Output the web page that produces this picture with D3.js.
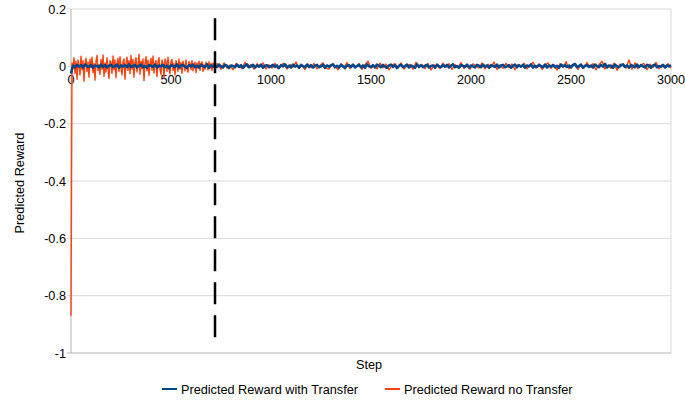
<!DOCTYPE html>
<html>
<head>
<meta charset="utf-8">
<script src="https://cdn.jsdelivr.net/npm/d3@7"></script>
<style>
  body { margin: 0; background: #fff; }
  svg { display: block; font-family: "Liberation Sans", Arial, sans-serif; }
</style>
</head>
<body>
<svg width="685" height="401"></svg>
<script>
// values are in thousandths of reward units
var transferSteps = d3.range(0, 3001, 10);
var transferMilli = [-25,
  2, -3, 5, -1, 4, -4, 6, 0, -2, 5, -5, 3, 1, -3, 6, -2, 4, -4, 2, 5,
  -3, 1, 6, -5, 3, -1, 4, -3, 7, -2, 0, 5, -4, 2, 6, -3, 1, -5, 4, 2,
  -2, 6, -4, 3, 0, 5, -3, 2, -6, 4, 1, -2, 7, -4, 3, 5, -1, -5, 4, 0,
  6, -3, 2, -4, 5, 1, -2, 7, -5, 3, -1, 4, -3, 6, 0, -4, 5, 2, -6, 3,
  1, -3, 6, -2, 4, -5, 2, 7, -3, 0, 5, -4, 3, -1, 6, -5, 2, 4, -3, 1,
  5, -2, 3, -6, 4, 0, 7, -3, 2, -4, 6, -1, 3, -5, 5, 1, -3, 6, -2, 4,
  -4, 2, 5, -3, 0, 6, -5, 3, -1, 4, 7, -3, 2, -4, 5, 0, -6, 3, 4, -2,
  6, -4, 1, 5, -3, 3, -5, 7, 0, -2, 4, -4, 6, 2, -3, 5, -1, -5, 3, 6,
  -2, 4, -6, 2, 5, -3, 1, 6, -4, 3, 0, -5, 7, -2, 4, -3, 2, 5, -4, 1,
  3, -5, 6, 0, -3, 4, -1, 5, -4, 2, 7, -3, 1, -5, 4, 2, -2, 6, -4, 3,
  0, -4, 5, 2, -3, 6, -1, 3, -5, 4, 1, -2, 6, -4, 3, 5, -3, 0, 4, -5,
  2, 6, -3, 4, -1, 5, -5, 3, 0, 7, -4, 2, -2, 5, 1, -3, 6, -4, 3, -1,
  5, -3, 2, -5, 6, 0, 4, -2, 3, -4, 5, 8, -3, 1, 6, -5, 2, 4, -2, 3,
  -4, 6, 1, -3, 5, -1, 9, -4, 3, 2, -5, 6, 0, -3, 4, 7, -2, 3, -5, 5,
  1, -3, 6, -2, 4, 0, -4, 5, 2, -5, 3, 6, -3, 1, -2, 5, -4, 3, 0, 4];

var noTransferSteps = d3.range(0, 721, 5).concat(d3.range(735, 3001, 15));
var noTransferMilli = [-870,
  12, -8, 30, -25, 18, -45, 22, 5, -30, 35, -12, 20, -52, 8, 28, -18, 15, -38, 25, -5,
  32, -22, 10, -48, 18, 38, -15, 6, -28, 24, -10, 40, -35, 12, -20, 30, -8, -42, 20, 14,
  -25, 36, -12, 22, -40, 8, 28, -18, 34, -6, -30, 16, 26, -45, 10, 32, -14, 20, -26, 38,
  -10, 24, -38, 14, 30, -20, 6, 42, -28, 18, -8, 26, -50, 12, 34, -16, 22, -32, 8, 28,
  -14, 36, -24, 10, 20, -36, 16, 30, -12, -28, 22, 8, -40, 26, 14, -18, 32, -8, -26, 18,
  24, -14, 10, -30, 20, 6, -18, 26, -10, 14, -24, 18, 4, -16, 22, -8, -20, 16, 10, -12,
  20, -16, 8, 14, -22, 12, -6, 18, -14, 10, 16, -18, 6, -10, 14, 8, -12, 16, -6, 10, -14, 12, -4, 8,
  8, -10, 12, -6, 4, -12, 10, 2, -8, 14, -4, 6, -10, 9, -2, 12, -9, 5, -6, 10,
  -8, 4, 11, -10, 6, -3, 15, -7, 2, -11, 8, -5, 10, -9, 3, 12, -6, -10, 7, 1,
  -12, 9, -4, 13, -8, 5, -2, 10, -11, 6, 18, -7, 3, -9, 11, -5, 8, -12, 4, 9,
  -6, 12, -9, 2, 7, -10, 14, -4, 6, -8, 10, -13, 5, 1, -7, 11, -3, 9, -11, 6,
  -5, 13, -8, 4, -10, 9, 2, -6, 12, -9, 7, -3, 15, -11, 5, -7, 10, -4, 8, -12,
  6, -2, 11, -9, 4, 14, -6, 8, -10, 3, 12, -7, 5, -13, 9, -4, 16, -8, 2, 10,
  -11, 7, -5, 13, -3, 9, -12, 6, 18, -9, 4, -7, 11, -14, 8, 2, -6, 22, -10, 12,
  -8, 5, 10, -12, 7, -4, 14, -9, 6, -2, 9, -6];

var seriesNames = ["Predicted Reward with Transfer", "Predicted Reward no Transfer"];
var seriesColors = ["#004586", "#ff420e"];
var xTicks = [0, 500, 1000, 1500, 2000, 2500, 3000];
var yTicks = [0.2, 0, -0.2, -0.4, -0.6, -0.8, -1];
var yTickLabels = ["0.2", "0", "-0.2", "-0.4", "-0.6", "-0.8", "-1"];
var markerStep = 720;
var markerRange = [0.168, -0.955];

var transfer = transferSteps.map(function (s, i) { return { step: s, value: transferMilli[i] / 1000 }; });
var noTransfer = noTransferSteps.map(function (s, i) { return { step: s, value: noTransferMilli[i] / 1000 }; });

var svg = d3.select("svg");
var plotLeft = 71, plotRight = 671, plotTop = 9, plotBottom = 353;
var fontSize = 12.7;

var x = d3.scaleLinear().domain([0, 3000]).range([plotLeft, plotRight]);
var y = d3.scaleLinear().domain([-1, 0.2]).range([plotBottom, plotTop]);

// grid lines with small outward ticks
svg.append("g")
    .selectAll("line")
    .data(yTicks)
    .enter()
    .append("line")
    .attr("x1", plotLeft - 4)
    .attr("x2", plotRight)
    .attr("y1", function (d) { return y(d); })
    .attr("y2", function (d) { return y(d); })
    .attr("stroke", function (d) { return d === -1 ? "#b3b3b3" : "#d9d9d9"; })
    .attr("stroke-width", 1);

// frame
svg.append("line").attr("x1", plotRight).attr("x2", plotRight).attr("y1", plotTop).attr("y2", plotBottom)
    .attr("stroke", "#d9d9d9");
svg.append("line").attr("x1", plotLeft).attr("x2", plotLeft).attr("y1", plotTop).attr("y2", plotBottom)
    .attr("stroke", "#b3b3b3");

// y tick labels
svg.append("g")
    .selectAll("text")
    .data(yTicks)
    .enter()
    .append("text")
    .attr("x", plotLeft - 5)
    .attr("y", function (d) { return y(d) + 4.5; })
    .attr("text-anchor", "end")
    .attr("font-size", fontSize)
    .attr("fill", "#000")
    .text(function (d, i) { return yTickLabels[i]; });

// x tick labels sit under the zero line
svg.append("g")
    .selectAll("text")
    .data(xTicks)
    .enter()
    .append("text")
    .attr("x", function (d) { return x(d); })
    .attr("y", y(0) + 17.5)
    .attr("text-anchor", "middle")
    .attr("font-size", fontSize)
    .attr("fill", "#000")
    .text(function (d) { return d; });

var line = d3.line()
    .x(function (d) { return x(d.step); })
    .y(function (d) { return y(d.value); });

svg.append("path")
    .datum(noTransfer)
    .attr("d", line)
    .attr("fill", "none")
    .attr("stroke", seriesColors[1])
    .attr("stroke-width", 1.4)
    .attr("stroke-linejoin", "round");

svg.append("path")
    .datum(transfer)
    .attr("d", line)
    .attr("fill", "none")
    .attr("stroke", seriesColors[0])
    .attr("stroke-width", 2.6)
    .attr("stroke-linejoin", "round");

// dashed marker line
svg.append("line")
    .attr("x1", x(markerStep))
    .attr("x2", x(markerStep))
    .attr("y1", y(markerRange[0]))
    .attr("y2", y(markerRange[1]))
    .attr("stroke", "#000")
    .attr("stroke-width", 2.5)
    .attr("stroke-dasharray", "22,11");

// axis titles
svg.append("text")
    .attr("x", 369)
    .attr("y", 369)
    .attr("text-anchor", "middle")
    .attr("font-size", fontSize)
    .text("Step");

svg.append("text")
    .attr("transform", "translate(24,183) rotate(-90)")
    .attr("text-anchor", "middle")
    .attr("font-size", fontSize)
    .text("Predicted Reward");

// legend
var legendX = [162, 385];
var legend = svg.append("g")
    .selectAll("g")
    .data(seriesNames)
    .enter()
    .append("g")
    .attr("transform", function (d, i) { return "translate(" + legendX[i] + ",389)"; });

legend.append("line")
    .attr("x1", 0).attr("x2", 15)
    .attr("stroke", function (d, i) { return seriesColors[i]; })
    .attr("stroke-width", 2);

legend.append("text")
    .attr("x", 19)
    .attr("y", 4.5)
    .attr("font-size", fontSize)
    .text(function (d) { return d; });
</script>
</body>
</html>
